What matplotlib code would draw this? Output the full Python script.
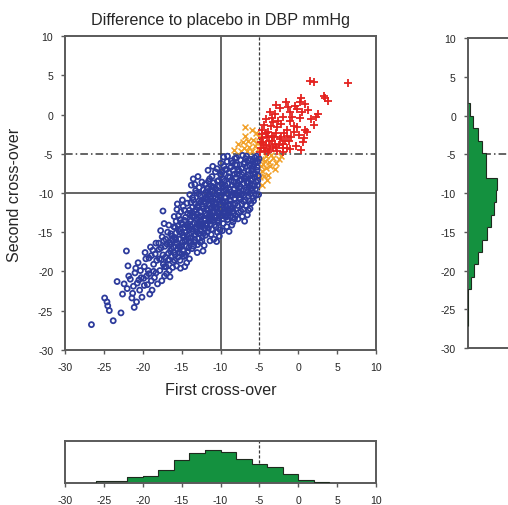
import numpy as np
import matplotlib
matplotlib.use('Agg')
import matplotlib.pyplot as plt

plt.rcParams['font.family'] = ['Liberation Sans', 'DejaVu Sans']
plt.rcParams['axes.unicode_minus'] = False

TITLE = 'Difference to placebo in DBP mmHg'
X_LABEL = 'First cross-over'
Y_LABEL = 'Second cross-over'
axis_ticks = [-30, -25, -20, -15, -10, -5, 0, 5, 10]

# both cross-overs below -5 (open circles)
blue_points = [
    (-26.6, -26.8), (-23.8, -26.3), (-22.8, -25.3), (-21.1, -24.6), (-24.5, -24.4), (-24.9, -23.4),
    (-24.3, -25.0), (-23.3, -21.3), (-20.1, -23.3), (-22.1, -17.4), (-17.4, -12.3), (-24.6, -23.9),
    (-22.4, -21.6), (-22.0, -22.2), (-21.6, -21.0), (-21.3, -22.8), (-21.0, -20.2), (-20.7, -21.5),
    (-21.8, -20.6), (-20.4, -22.4), (-20.9, -19.6), (-21.4, -23.4), (-20.2, -20.8), (-20.6, -18.9),
    (-21.9, -19.3), (-20.3, -19.9), (-22.6, -22.9), (-20.8, -23.9), (-21.2, -21.9), (-20.5, -21.1),
    (-19.8, -19.4), (-19.5, -20.6), (-19.2, -18.3), (-18.9, -21.2), (-18.6, -19.1), (-18.3, -20.2),
    (-19.7, -17.6), (-19.0, -16.9), (-18.4, -17.8), (-19.4, -21.7), (-18.8, -22.4), (-18.2, -18.6),
    (-19.9, -20.9), (-19.3, -19.9), (-18.7, -17.3), (-18.1, -21.6), (-19.6, -18.4), (-18.5, -20.8),
    (-19.1, -22.9), (-18.9, -18.0), (-18.3, -16.4), (-19.8, -21.8), (-18.6, -20.0), (-19.2, -20.3),
    (-17.9, -17.2), (-17.6, -18.5), (-17.3, -16.1), (-17.0, -19.4), (-16.7, -17.7), (-16.4, -15.2),
    (-16.1, -18.8), (-17.8, -19.9), (-17.5, -15.6), (-17.2, -20.6), (-16.9, -16.5), (-16.6, -19.9),
    (-16.3, -17.1), (-16.0, -14.3), (-17.7, -14.8), (-17.4, -17.9), (-17.1, -18.2), (-16.8, -15.0),
    (-16.5, -20.7), (-16.2, -16.0), (-17.95, -16.4), (-17.35, -19.1), (-16.75, -18.6), (-16.15, -19.5),
    (-17.65, -17.0), (-17.05, -15.9), (-16.45, -17.4), (-16.05, -16.9), (-17.85, -18.4), (-17.25, -13.9),
    (-16.65, -14.1), (-16.35, -18.1), (-17.55, -21.2), (-16.95, -20.3), (-16.25, -15.5), (-17.15, -16.8),
    (-16.55, -16.3),
    (-15.9, -15.7), (-15.7, -13.6), (-15.5, -17.2), (-15.3, -14.9), (-15.1, -12.4), (-14.9, -16.3),
    (-14.7, -18.1), (-14.5, -13.1), (-14.3, -15.4), (-14.1, -17.0), (-15.8, -17.9), (-15.6, -16.4),
    (-15.4, -12.9), (-15.2, -18.6), (-15.0, -15.1), (-14.8, -11.7), (-14.6, -14.4), (-14.4, -16.8),
    (-14.2, -12.6), (-14.0, -18.4), (-15.95, -13.0), (-15.65, -19.3), (-15.35, -15.9), (-15.05, -13.8),
    (-14.75, -17.4), (-14.45, -15.0), (-14.15, -13.9), (-15.85, -14.4), (-15.55, -11.4), (-15.25, -16.9),
    (-14.95, -17.8), (-14.65, -12.2), (-14.35, -18.9), (-14.05, -14.7), (-15.75, -16.0), (-15.45, -14.2),
    (-15.15, -19.6), (-14.85, -14.0), (-14.55, -16.1), (-14.25, -17.5), (-15.9, -18.6), (-15.6, -12.1),
    (-15.3, -17.6), (-15.0, -16.7), (-14.7, -15.6), (-14.4, -14.1), (-14.1, -16.2), (-15.2, -13.4),
    (-14.9, -10.9), (-14.6, -19.4), (-14.3, -11.3), (-15.7, -15.1), (-15.45, -18.2), (-14.15, -15.8),
    (-14.5, -17.9),
    (-13.9, -12.8), (-13.7, -14.6), (-13.5, -10.9), (-13.3, -16.0), (-13.1, -13.3), (-12.9, -11.6),
    (-12.7, -15.2), (-12.5, -12.4), (-12.3, -14.0), (-12.1, -16.7), (-13.8, -15.7), (-13.6, -11.8),
    (-13.4, -13.8), (-13.2, -9.7), (-13.0, -15.0), (-12.8, -13.1), (-12.6, -10.4), (-12.4, -16.1),
    (-12.2, -12.0), (-12.0, -14.5), (-13.95, -10.2), (-13.65, -17.1), (-13.35, -12.3), (-13.05, -14.3),
    (-12.75, -9.3), (-12.45, -13.7), (-12.15, -11.1), (-13.85, -13.6), (-13.55, -14.9), (-13.25, -11.4),
    (-12.95, -16.6), (-12.65, -12.9), (-12.35, -15.6), (-12.05, -10.7), (-13.75, -9.0), (-13.45, -16.8),
    (-13.15, -12.1), (-12.85, -14.1), (-12.55, -11.2), (-12.25, -17.4), (-13.9, -14.2), (-13.6, -10.6),
    (-13.3, -13.0), (-13.0, -17.6), (-12.7, -13.9), (-12.4, -8.6), (-12.1, -13.3), (-13.7, -12.5),
    (-13.4, -15.4), (-13.1, -10.0), (-12.8, -15.8), (-12.5, -14.8), (-12.2, -9.6), (-13.5, -8.2),
    (-12.9, -7.9), (-12.3, -11.7), (-13.2, -14.6), (-12.6, -16.3), (-12.0, -12.6), (-13.8, -11.2),
    (-12.75, -11.0), (-12.45, -13.0), (-13.35, -16.3), (-12.15, -15.1), (-13.05, -12.7),
    (-11.9, -11.3), (-11.7, -9.4), (-11.5, -13.2), (-11.3, -10.5), (-11.1, -14.6), (-10.9, -8.7),
    (-10.7, -12.0), (-10.5, -10.2), (-10.3, -13.8), (-10.1, -11.5), (-11.8, -13.9), (-11.6, -12.2),
    (-11.4, -8.2), (-11.2, -15.3), (-11.0, -11.0), (-10.8, -13.1), (-10.6, -9.5), (-10.4, -15.0),
    (-10.2, -12.7), (-10.0, -7.6), (-11.95, -15.4), (-11.65, -10.8), (-11.35, -12.6), (-11.05, -9.8),
    (-10.75, -14.1), (-10.45, -11.8), (-10.15, -9.1), (-11.85, -8.9), (-11.55, -14.5), (-11.25, -11.9),
    (-10.95, -13.5), (-10.65, -7.3), (-10.35, -12.4), (-10.05, -14.7), (-11.75, -12.8), (-11.45, -10.1),
    (-11.15, -12.9), (-10.85, -15.9), (-10.55, -12.9), (-10.25, -8.4), (-11.9, -9.9), (-11.6, -7.1),
    (-11.3, -14.0), (-11.0, -12.4), (-10.7, -10.7), (-10.4, -13.5), (-10.1, -10.3), (-11.8, -10.6),
    (-11.5, -11.5), (-11.2, -9.1), (-10.9, -11.7), (-10.6, -14.3), (-10.3, -9.9), (-11.4, -13.6),
    (-11.1, -7.9), (-10.8, -10.0), (-10.5, -16.2), (-10.2, -11.1), (-11.7, -15.0), (-11.0, -6.6),
    (-10.45, -6.9), (-11.55, -8.5), (-10.85, -9.3), (-11.25, -13.0), (-10.65, -11.3), (-10.05, -12.9),
    (-11.35, -16.1), (-10.15, -15.5), (-11.05, -11.2), (-10.35, -10.8),
    (-9.9, -10.4), (-9.7, -8.2), (-9.5, -12.1), (-9.3, -9.6), (-9.1, -13.4), (-8.9, -7.4),
    (-8.7, -11.0), (-8.5, -9.0), (-8.3, -12.6), (-8.1, -6.4), (-9.8, -12.9), (-9.6, -11.2),
    (-9.4, -7.0), (-9.2, -14.3), (-9.0, -10.1), (-8.8, -12.2), (-8.6, -8.4), (-8.4, -13.7),
    (-8.2, -10.7), (-8.0, -8.0), (-9.95, -6.2), (-9.65, -13.9), (-9.35, -11.6), (-9.05, -8.8),
    (-8.75, -13.0), (-8.45, -10.3), (-8.15, -5.6), (-9.85, -8.9), (-9.55, -9.7), (-9.25, -11.8),
    (-8.95, -12.6), (-8.65, -6.7), (-8.35, -11.5), (-8.05, -12.9), (-9.75, -14.8), (-9.45, -10.6),
    (-9.15, -6.0), (-8.85, -9.6), (-8.55, -14.1), (-8.25, -9.4), (-9.9, -7.7), (-9.6, -5.4),
    (-9.3, -13.1), (-9.0, -11.6), (-8.7, -9.9), (-8.4, -7.1), (-8.1, -11.4), (-9.8, -11.0),
    (-9.5, -8.5), (-9.2, -10.0), (-8.9, -14.9), (-8.6, -12.0), (-8.3, -8.6), (-9.4, -12.4),
    (-9.1, -5.3), (-8.8, -10.9), (-8.5, -6.2), (-8.2, -13.3), (-9.7, -9.3), (-9.0, -7.9),
    (-8.45, -11.9), (-9.25, -12.9), (-8.65, -10.4), (-9.55, -6.6), (-8.0, -10.1),
    (-7.9, -9.1), (-7.7, -7.0), (-7.5, -10.8), (-7.3, -8.3), (-7.1, -12.1), (-6.9, -6.1),
    (-6.7, -9.6), (-6.5, -7.7), (-6.3, -11.0), (-6.1, -5.7), (-7.8, -11.6), (-7.6, -9.9),
    (-7.4, -5.8), (-7.2, -13.0), (-7.0, -8.8), (-6.8, -10.9), (-6.6, -6.6), (-6.4, -12.2),
    (-6.2, -9.0), (-6.0, -7.2), (-7.95, -5.5), (-7.65, -12.5), (-7.35, -10.2), (-7.05, -7.4),
    (-6.75, -11.6), (-6.45, -8.7), (-6.15, -10.1), (-7.85, -7.6), (-7.55, -8.4), (-7.25, -11.4),
    (-6.95, -10.3), (-6.65, -5.3), (-6.35, -9.3), (-6.05, -11.3), (-7.75, -13.3), (-7.45, -9.2),
    (-7.15, -5.2), (-6.85, -8.1), (-6.55, -12.8), (-6.25, -6.5), (-7.9, -6.4), (-7.6, -10.6),
    (-7.3, -6.9), (-7.0, -11.1), (-6.7, -7.9), (-6.4, -10.4), (-6.1, -8.4), (-7.8, -8.7),
    (-7.1, -9.7), (-6.8, -5.6), (-6.5, -9.9), (-7.4, -12.3), (-6.2, -12.0), (-7.2, -7.7),
    (-6.9, -13.6),
    (-5.9, -8.2), (-5.7, -6.4), (-5.5, -9.5), (-5.3, -7.1), (-5.1, -10.2), (-5.8, -10.6),
    (-5.6, -5.5), (-5.4, -8.6), (-5.2, -6.0), (-5.95, -6.9), (-5.65, -9.1), (-5.35, -5.3),
    (-5.15, -7.8), (-5.85, -5.9), (-5.55, -7.5), (-5.25, -9.0), (-5.05, -5.6), (-5.75, -11.0),
    (-5.45, -10.3), (-5.6, -8.0), (-5.3, -6.7), (-5.9, -9.7), (-5.2, -8.4), (-5.5, -6.2),
    (-5.8, -7.6),
    # extra points in the dense core
    (-13.0, -11.8), (-12.4, -10.9), (-11.8, -12.0), (-11.2, -10.8), (-10.6, -11.9), (-10.0, -10.6),
    (-9.4, -9.0), (-8.8, -8.0), (-8.2, -7.6), (-7.6, -7.2), (-7.0, -6.3), (-6.4, -5.8),
    (-13.6, -13.0), (-13.0, -13.9), (-12.4, -14.3), (-11.8, -14.2), (-11.2, -13.4), (-10.6, -13.0),
    (-10.0, -12.1), (-9.4, -11.1), (-8.8, -11.4), (-8.2, -10.2), (-7.6, -9.4), (-7.0, -8.1),
    (-6.4, -7.1), (-5.8, -6.6), (-14.2, -14.3), (-14.8, -15.4), (-15.4, -16.8), (-16.0, -17.6),
    (-16.6, -18.5), (-17.2, -19.4), (-13.8, -16.2), (-13.2, -15.3), (-12.6, -14.2), (-12.0, -13.5),
    (-11.4, -12.9), (-10.8, -12.3), (-10.2, -13.6), (-9.6, -12.5), (-9.0, -12.9), (-8.4, -12.3),
    (-7.8, -10.3), (-7.2, -10.1), (-6.6, -8.7), (-6.0, -9.4), (-11.6, -9.8), (-11.0, -9.2),
    (-10.4, -8.5), (-9.8, -7.3), (-9.2, -7.0), (-8.6, -5.9), (-12.8, -10.1), (-12.0, -8.9),
    (-14.0, -12.2), (-14.6, -13.5), (-15.2, -14.6), (-15.8, -15.8), (-16.4, -16.6), (-13.3, -8.9),
]

# exactly one cross-over above -5 (crosses)
orange_points = [
    (-7.7, -3.8), (-7.1, -3.5), (-6.9, -2.7), (-5.4, -2.3), (-6.3, -4.1), (-5.8, -3.2),
    (-5.2, -4.4), (-6.6, -4.6), (-7.4, -4.7), (-5.6, -4.0), (-6.0, -2.0), (-8.3, -4.5),
    (-5.3, -3.6), (-6.4, -3.3), (-5.9, -4.7), (-7.0, -4.3), (-5.1, -2.9), (-6.8, -1.6),
    (-4.8, -5.6), (-4.5, -6.3), (-4.1, -5.3), (-3.7, -6.0), (-4.6, -7.2), (-3.3, -5.5),
    (-4.9, -8.0), (-4.2, -6.8), (-3.9, -7.7), (-2.8, -6.2), (-4.7, -9.0), (-3.5, -5.2),
    (-4.3, -5.9), (-2.5, -5.6), (-4.0, -8.3), (-4.85, -6.6), (-3.0, -7.0), (-4.4, -7.8),
    (-2.2, -5.3), (-3.6, -6.6),
]

# both cross-overs above -5 (plus signs)
red_points = [
    (1.5, 4.3), (2.0, 4.2), (6.4, 4.0), (3.5, 2.1), (3.3, 2.4), (3.8, 1.8), (2.6, 0.1),
    (0.9, 1.3), (0.2, 1.6), (-1.6, 1.6), (-0.4, 1.1), (-3.6, 0.4), (-1.1, 0.3), (-0.2, 0.7),
    (0.5, 0.4), (-2.3, 0.8), (-3.2, -1.0), (-1.1, -0.8), (0.9, -1.9), (0.6, -3.5), (-1.5, -4.2),
    (1.1, -2.2), (0.2, -0.4), (-0.6, -1.5), (-2.0, -0.3), (-2.7, -1.6), (-3.9, -2.2), (-4.4, -1.3),
    (-1.8, -2.4), (-0.9, -2.9), (0.1, -2.6), (-2.4, -3.1), (-3.4, -2.7), (-4.6, -3.0), (-4.1, -3.9),
    (-3.0, -3.7), (-2.0, -3.8), (-1.2, -3.4), (-0.3, -4.0), (0.3, -4.5), (-3.7, -4.5), (-4.8, -4.2),
    (-2.7, -4.6), (-1.9, -4.8), (-4.3, -4.7), (-3.3, -4.2), (-4.0, -2.9), (-2.8, -2.3), (-1.5, -1.9),
    (-3.5, -1.5), (-4.7, -2.0), (-2.2, -1.2), (-0.8, -0.3), (-3.0, 0.1), (-4.2, -0.6), (1.6, -0.6),
    (2.0, -1.3), (-1.4, -2.7), (-2.5, -3.9), (-3.8, -3.4), (-4.5, -3.6), (-0.5, -2.2), (-2.9, -4.1),
    (-4.9, -4.8), (-4.4, -4.3), (-3.9, -4.8), (-3.4, -3.3), (-2.2, -2.8), (0.8, -3.0), (-1.0, -4.4),
    (-4.6, -2.5), (-3.1, -2.9), (-1.7, -3.3), (-2.6, -0.8), (1.3, 0.6), (-0.1, -1.6), (-3.6, -4.0),
    (-4.8, -3.5), (-2.0, -4.3), (-4.2, -2.4), (2.3, -0.3), (-1.3, 1.0), (-2.9, 1.2), (0.4, 2.1),
    (-3.4, -0.4),
]

# marginal histogram of first cross-over (bottom panel)
first_edges = [-26, -24, -22, -20, -18, -16, -14, -12, -10, -8, -6, -4, -2, 0, 2, 4]
first_counts = [6, 6, 19, 24, 42, 72, 93, 104, 96, 74, 59, 50, 28, 10, 5]

# marginal histogram of second cross-over (right panel)
second_edges = [-27.2, -25.6, -24.0, -22.4, -20.8, -19.2, -17.6, -16.0, -14.4, -12.8,
                -11.2, -9.6, -8.0, -6.4, -4.8, -3.2, -1.6, 0.0, 1.6]
second_counts = [1, 1, 2, 10, 20, 30, 42, 59, 69, 80, 84, 88, 54, 54, 42, 30, 17, 7]

BLUE = '#2d3b9c'
ORANGE = '#f2a12a'
RED = '#e42320'
GREEN = '#14913f'
SPINE = '#5a5a5a'
LINE = '#3a3a3a'
TEXT = '#262626'

W, H = 508, 506


def px_rect(x0, y0, x1, y1):
    """Pixel box (top-left origin) -> figure fraction rect."""
    return [x0 / W, 1 - y1 / H, (x1 - x0) / W, (y1 - y0) / H]


def style(ax):
    for spine in ax.spines.values():
        spine.set_color(SPINE)
        spine.set_linewidth(1.4)
    ax.tick_params(direction='out', length=3, width=1, color=SPINE,
                   labelsize=7.6, labelcolor=TEXT, pad=5.5)


fig = plt.figure(figsize=(W / 100, H / 100), dpi=100)
fig.patch.set_facecolor('white')

# main scatter
ax = fig.add_axes(px_rect(65, 37.3, 376, 350.7))
style(ax)
ax.set_xlim(-30, 10)
ax.set_ylim(-30, 10)
ax.set_xticks(axis_ticks)
ax.set_yticks(axis_ticks)

ax.axvline(-10, color=LINE, lw=1.1, zorder=1)
ax.axhline(-10, color=LINE, lw=1.1, zorder=1)
ax.axvline(-5, color=LINE, lw=0.9, ls=(0, (2.5, 1.5)), zorder=1)
ax.axhline(-5, color=LINE, lw=1.1, ls=(0, (5, 2, 1, 2)), zorder=1)

bx, by = np.array(blue_points).T
ox, oy = np.array(orange_points).T
rx, ry = np.array(red_points).T
ax.scatter(ox, oy, marker='x', s=18, color=ORANGE, linewidths=1.1, zorder=2)
ax.scatter(bx, by, marker='o', s=13, facecolors='none', edgecolors=BLUE,
           linewidths=1.3, zorder=3)
ax.scatter(rx, ry, marker='+', s=40, color=RED, linewidths=1.3, zorder=4)

# right histogram (runs off the figure edge)
ax_r = fig.add_axes(px_rect(467.7, 39.3, 467.7 + 311, 349))
style(ax_r)
ax_r.set_ylim(-30, 10)
ax_r.set_xlim(0, 933)
ax_r.set_yticks(axis_ticks)
ax_r.set_xticks([])
ax_r.axhline(-5, color=LINE, lw=1.1, ls=(0, (5, 2, 1, 2)), zorder=1)
ax_r.stairs(second_counts, second_edges, orientation='horizontal', fill=True,
            color=GREEN, zorder=2)
ax_r.stairs(second_counts, second_edges, orientation='horizontal',
            color='#1e2a1e', lw=0.8, zorder=3)

# bottom histogram
ax_b = fig.add_axes(px_rect(65, 442.3, 376, 484.3))
style(ax_b)
ax_b.set_xlim(-30, 10)
ax_b.set_ylim(0, 130)
ax_b.set_xticks(axis_ticks)
ax_b.set_yticks([])
ax_b.axvline(-5, color=LINE, lw=0.9, ls=(0, (2.5, 1.5)), zorder=1)
ax_b.stairs(first_counts, first_edges, fill=True, color=GREEN, zorder=2)
ax_b.stairs(first_counts, first_edges, color='#1e2a1e', lw=0.8, zorder=3)

fig.text(220.5 / W, 1 - 25 / H, TITLE, ha='center', va='baseline',
         fontsize=11.6, color=TEXT)
fig.text(220.5 / W, 1 - 395 / H, X_LABEL, ha='center', va='baseline',
         fontsize=11.6, color=TEXT)
fig.text(14.5 / W, 1 - 194.5 / H, Y_LABEL, ha='center', va='center',
         rotation=90, fontsize=11.6, color=TEXT)

fig.savefig('out.png', dpi=100, facecolor='white')
